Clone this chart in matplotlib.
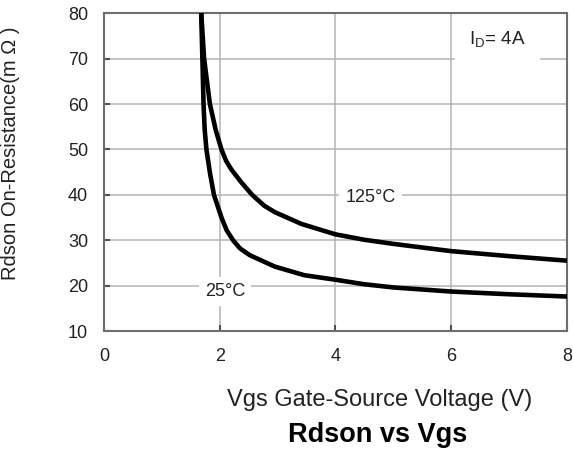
import matplotlib
matplotlib.use("Agg")
import matplotlib.pyplot as plt

# values
vgs_25 = [1.68, 1.70, 1.72, 1.74, 1.77, 1.83, 1.90, 2.03, 2.12, 2.23, 2.35, 2.52, 2.95, 3.46, 4.0, 4.5, 5.0, 6.0, 7.0, 8.0]
rds_25 = [80, 70, 60, 54.3, 50, 44.9, 40, 35, 32.2, 30, 28.2, 26.7, 24.2, 22.3, 21.3, 20.3, 19.6, 18.7, 18.1, 17.6]

vgs_125 = [1.68, 1.73, 1.83, 1.93, 2.03, 2.11, 2.20, 2.37, 2.56, 2.77, 2.95, 3.41, 4.0, 4.5, 5.0, 6.0, 7.0, 8.0]
rds_125 = [80, 70, 60, 54.3, 50, 47.5, 45.6, 42.8, 40, 37.6, 36.2, 33.6, 31.3, 30.1, 29.2, 27.6, 26.5, 25.5]

x_ticks = [0, 2, 4, 6, 8]
y_ticks = [10, 20, 30, 40, 50, 60, 70, 80]

plt.rcParams['font.family'] = ['Liberation Sans', 'DejaVu Sans']
plt.rcParams['mathtext.fontset'] = 'custom'
plt.rcParams['mathtext.rm'] = 'Liberation Sans'

fig = plt.figure(figsize=(5.73, 4.5), dpi=100)
ax = fig.add_axes([0.1815, 0.2644, 0.808, 0.706])

ax.plot(vgs_25, rds_25, color='black', lw=3.3, solid_joinstyle='round', zorder=3)
ax.plot(vgs_125, rds_125, color='black', lw=3.3, solid_joinstyle='round', zorder=3)

ax.set_xlim(0, 8)
ax.set_ylim(10, 80)
ax.set_xticks(x_ticks)
ax.set_yticks(y_ticks)
ax.grid(True, color='#b4b4b4', lw=1.1, zorder=0)
ax.set_axisbelow(True)

for s in ax.spines.values():
    s.set_color('#6e6e6e')
    s.set_linewidth(1.5)

ax.tick_params(axis='both', direction='in', length=4.5, width=1.5, color='#505050',
               labelsize=13, labelcolor='#222222')
ax.tick_params(axis='y', pad=11.5)
ax.tick_params(axis='x', pad=12)

ax.set_ylabel('Rdson On-Resistance(m Ω )', fontsize=14.5, color='#222222')
ax.yaxis.set_label_coords(-0.181, 0.56)
ax.set_xlabel('Vgs Gate-Source Voltage (V)', fontsize=17, color='#222222')
ax.xaxis.set_label_coords(0.596, -0.218)
ax.xaxis.label.set_va('center')

fig.text(377.5 / 573, 1 - 435 / 450, 'Rdson vs Vgs', fontsize=19.5, fontweight='bold',
         ha='center', va='center', color='black')

# curve labels with white boxes that cut the grid
ax.text(4.61, 39.5, '125°C', fontsize=13, ha='center', va='center', color='#222222',
        bbox=dict(boxstyle='square,pad=0.35', fc='white', ec='none'), zorder=2)
ax.text(2.09, 18.7, '25°C', fontsize=13, ha='center', va='center', color='#222222',
        bbox=dict(boxstyle='square,pad=0.35', fc='white', ec='none'), zorder=2)
ax.text(6.8, 74.2, r'I$_\mathregular{D}$= 4A', fontsize=13.5, ha='center', va='center',
        color='#222222', bbox=dict(boxstyle='square,pad=0.75', fc='white', ec='none'), zorder=2)

fig.savefig('out.png', dpi=100)
